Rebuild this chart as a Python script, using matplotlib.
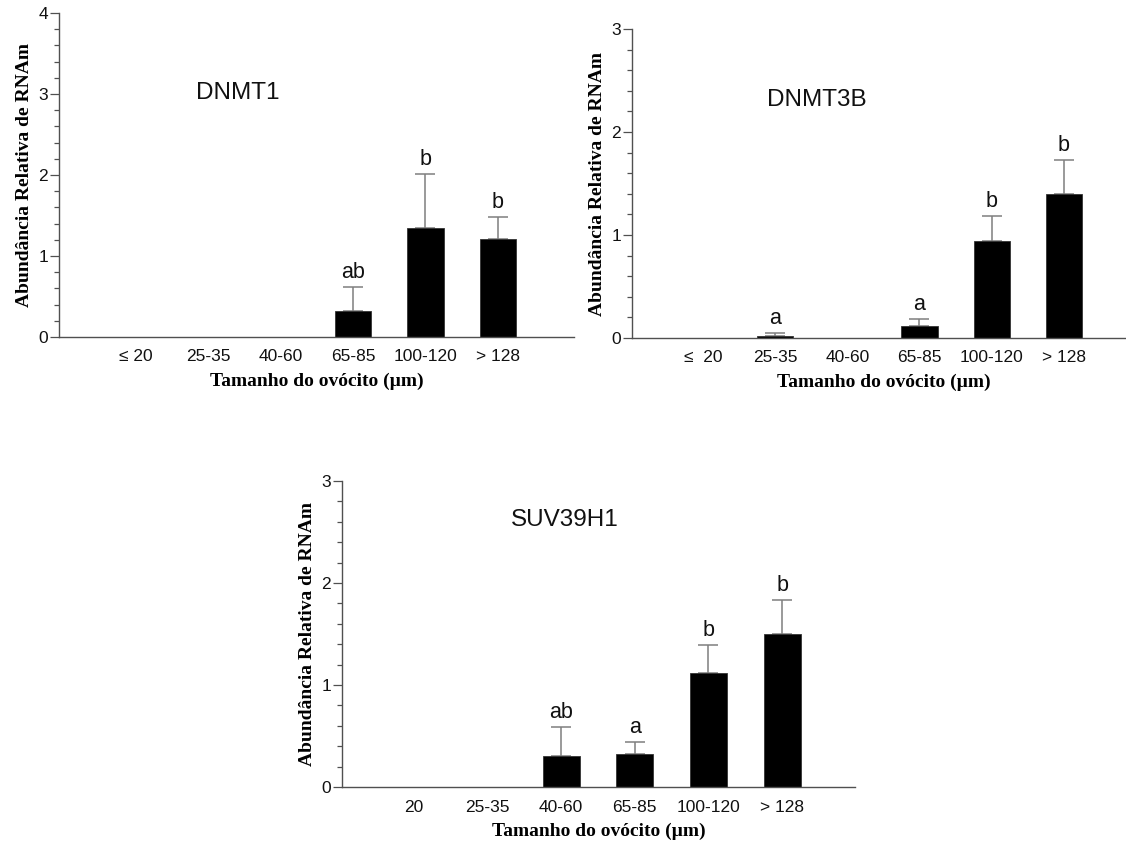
import matplotlib
matplotlib.use("Agg")
import matplotlib.pyplot as plt
import numpy as np
from matplotlib.ticker import MultipleLocator

# ---------------- data ----------------
cats_dnmt1 = ['≤ 20', '25-35', '40-60', '65-85', '100-120', '> 128']
cats_dnmt3b = ['≤  20', '25-35', '40-60', '65-85', '100-120', '> 128']
cats_suv = ['20', '25-35', '40-60', '65-85', '100-120', '> 128']

dnmt1_mean = [0, 0, 0, 0.32, 1.345, 1.21]
dnmt1_err = [0, 0, 0, 0.30, 0.665, 0.27]
dnmt1_letters = ['', '', '', 'ab', 'b', 'b']

dnmt3b_mean = [0, 0.02, 0, 0.116, 0.944, 1.40]
dnmt3b_err = [0, 0.025, 0, 0.064, 0.236, 0.33]
dnmt3b_letters = ['', 'a', '', 'a', 'b', 'b']

suv_mean = [0, 0, 0.30, 0.326, 1.115, 1.50]
suv_err = [0, 0, 0.29, 0.111, 0.275, 0.33]
suv_letters = ['', '', 'ab', 'a', 'b', 'b']

ylabel = 'Abundância Relativa de RNAm'
xlabel = 'Tamanho do ovócito (µm)'

W, H = 1126, 841
fig = plt.figure(figsize=(W / 100, H / 100), dpi=100)

def px_axes(left, right, top, bottom):
    return fig.add_axes([left / W, 1 - bottom / H, (right - left) / W, (bottom - top) / H])

SANS = ['Liberation Sans', 'DejaVu Sans']
SERIF = ['Liberation Serif', 'DejaVu Serif']
AXCOL = '#505050'

def panel(ax, cats, mean, err, letters, ymax, xlim, title, title_pos):
    x = np.arange(len(cats))
    ax.bar(x, mean, width=0.5, color='black', edgecolor='#333333', linewidth=0.6, zorder=2)
    idx = [i for i, e in enumerate(err) if e > 0]
    ax.errorbar(x[idx], np.array(mean)[idx],
                yerr=[np.zeros(len(idx)), np.array(err)[idx]],
                fmt='none', ecolor='#7f7f7f', elinewidth=1.1, capsize=7, capthick=1.1, zorder=1)
    for i, lab in enumerate(letters):
        if lab:
            ax.annotate(lab, (x[i], mean[i] + err[i]), xytext=(0, 3),
                        textcoords='offset points', ha='center', va='bottom',
                        fontsize=15.5, family=SANS, color='#111111')
    ax.set_xlim(*xlim)
    ax.set_ylim(0, ymax)
    ax.set_xticks(x)
    ax.set_xticklabels(cats, fontsize=12.5, family=SANS, color='#111111')
    ax.yaxis.set_major_locator(MultipleLocator(1))
    ax.yaxis.set_minor_locator(MultipleLocator(0.2))
    ax.tick_params(axis='x', length=0, pad=9)
    ax.tick_params(axis='y', which='major', length=6.5, width=0.9, color=AXCOL,
                   pad=1.5, labelsize=12.5, labelcolor='#111111')
    ax.tick_params(axis='y', which='minor', length=3.8, width=0.9, color=AXCOL)
    for lab in ax.get_yticklabels():
        lab.set_family(SANS)
    for s in ['top', 'right']:
        ax.spines[s].set_visible(False)
    for s in ['left', 'bottom']:
        ax.spines[s].set_color(AXCOL)
        ax.spines[s].set_linewidth(1.0)
    ax.set_xlabel(xlabel, fontsize=14, fontweight='bold', family=SERIF, labelpad=6)
    ax.set_ylabel(ylabel, fontsize=14, fontweight='bold', family=SERIF, labelpad=4)
    ax.text(title_pos[0], title_pos[1], title, transform=ax.transAxes,
            ha='center', va='center', fontsize=17.5, family=SANS, color='#111111')

ax1 = px_axes(59, 574, 13, 337)
panel(ax1, cats_dnmt1, dnmt1_mean, dnmt1_err, dnmt1_letters, 4, (-1.055, 6.05),
      'DNMT1', (0.348, 0.753))

ax2 = px_axes(632, 1136, 29, 338)
panel(ax2, cats_dnmt3b, dnmt3b_mean, dnmt3b_err, dnmt3b_letters, 3, (-0.983, 6.0),
      'DNMT3B', (0.367, 0.770))

ax3 = px_axes(342, 855, 481, 787)
panel(ax3, cats_suv, suv_mean, suv_err, suv_letters, 3, (-0.978, 5.99),
      'SUV39H1', (0.435, 0.873))

fig.savefig('out.png', dpi=100)
